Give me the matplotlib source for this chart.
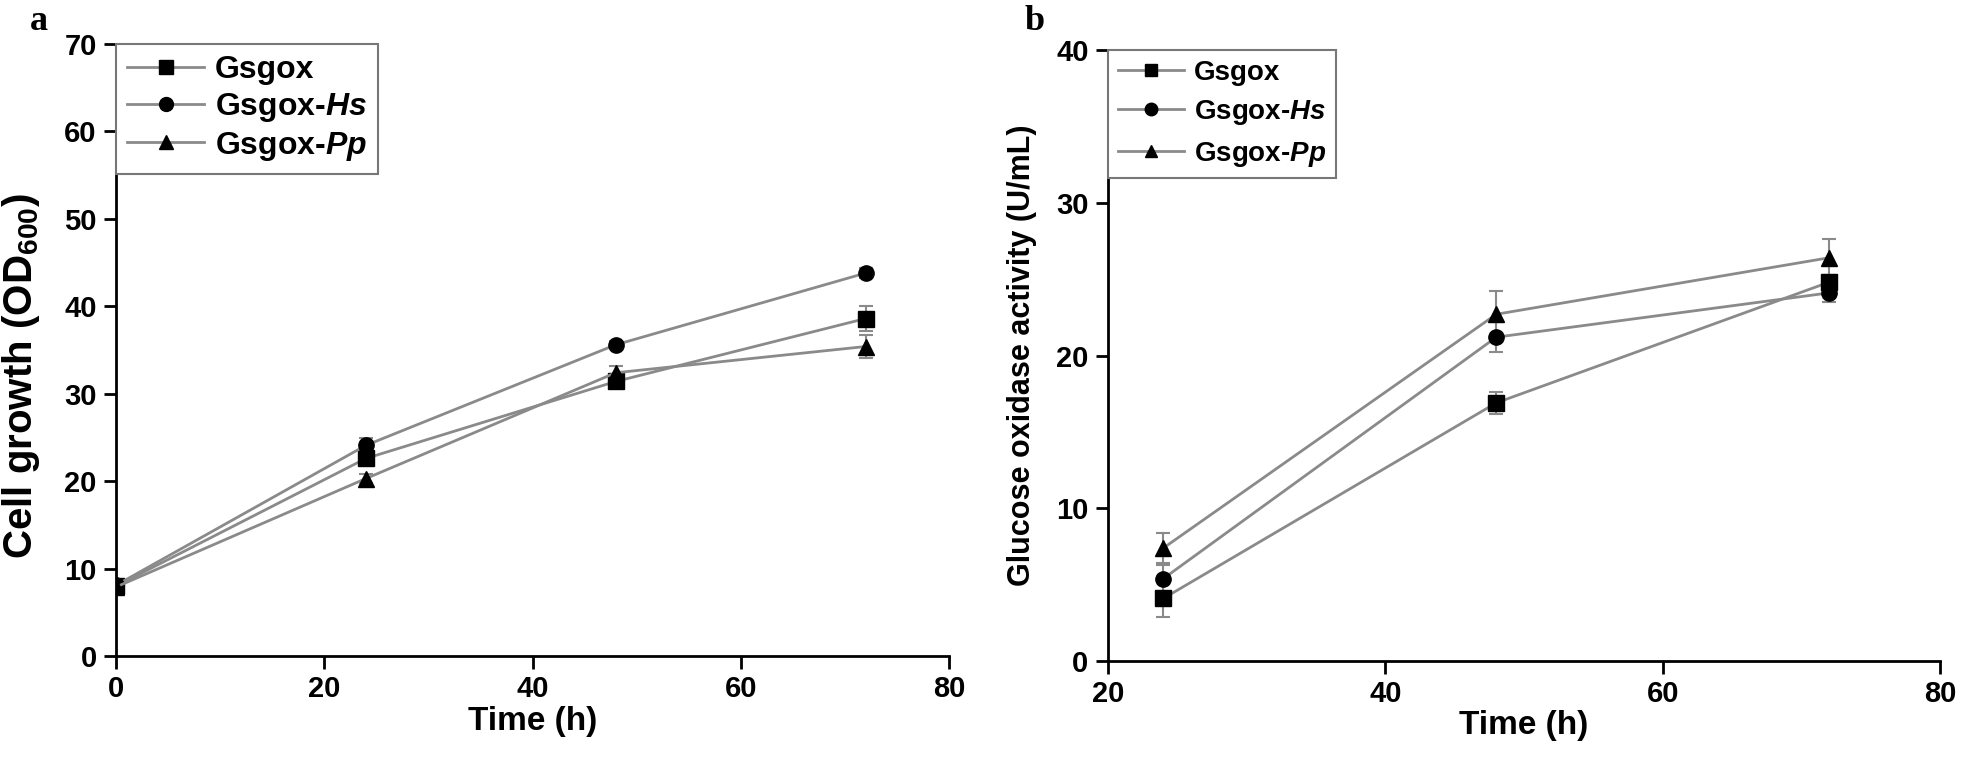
import numpy as np
import matplotlib
matplotlib.use('Agg')
import matplotlib.pyplot as plt
from matplotlib.lines import Line2D

plt.rcParams['font.family'] = ['Liberation Sans', 'DejaVu Sans']
plt.rcParams['font.weight'] = 'bold'
plt.rcParams['mathtext.fontset'] = 'custom'
plt.rcParams['mathtext.bf'] = 'Liberation Sans:bold'
plt.rcParams['mathtext.rm'] = 'Liberation Sans:bold'
plt.rcParams['mathtext.bfit'] = 'Liberation Sans:italic:bold'
plt.rcParams['mathtext.default'] = 'bf'

# data
labels = ['Gsgox', 'Gsgox-$\\mathbfit{Hs}$', 'Gsgox-$\\mathbfit{Pp}$']
markers = ['s', 'o', '^']

time_a = [0, 24, 48, 72]
growth = [[8.0, 22.6, 31.4, 38.6],
          [8.1, 24.1, 35.6, 43.8],
          [7.9, 20.3, 32.4, 35.4]]
growth_err = [[0.3, 0.8, 0.5, 1.4],
              [0.3, 0.8, 0.4, 0.6],
              [0.3, 0.5, 0.8, 1.3]]

time_b = [24, 48, 72]
activity = [[4.1, 16.9, 24.8],
            [5.4, 21.2, 24.1],
            [7.4, 22.7, 26.4]]
activity_err = [[1.2, 0.7, 0.5],
                [0.9, 1.0, 0.6],
                [1.0, 1.5, 1.2]]

fig = plt.figure(figsize=(19.61, 7.81), dpi=100)
ax1 = fig.add_axes([0.0592, 0.160, 0.4247, 0.7837])
ax2 = fig.add_axes([0.565, 0.1536, 0.4243, 0.7824])

LINE = '#8a8a8a'


def draw(ax, t, ys, errs, legsize, legms, legspace):
    for y, e, m in zip(ys, errs, markers):
        ax.errorbar(t, y, yerr=e, color=LINE, lw=2, marker=m, ms=11,
                    mfc='black', mec='black', ecolor=LINE, elinewidth=1.5,
                    capsize=5, capthick=1.5)
    for s in ['top', 'right']:
        ax.spines[s].set_visible(False)
    for s in ['left', 'bottom']:
        ax.spines[s].set_linewidth(2)
    ax.tick_params(direction='out', length=9, width=2, labelsize=21, pad=5)
    for lbl in ax.get_xticklabels() + ax.get_yticklabels():
        lbl.set_fontweight('bold')
    handles = [Line2D([], [], color=LINE, lw=2, marker=m, ms=legms,
                      mfc='black', mec='black') for m in markers]
    leg = ax.legend(handles, labels, loc='upper left', bbox_to_anchor=(0, 1),
                    borderaxespad=0, fontsize=legsize, handlelength=2.4,
                    labelspacing=legspace, fancybox=False, edgecolor='#777777',
                    framealpha=1, borderpad=0.35, handletextpad=0.35)
    leg.get_frame().set_linewidth(1.5)
    for txt in leg.get_texts():
        txt.set_fontweight('bold')


draw(ax1, time_a, growth, growth_err, 23, 10, 0.18)
ax1.set_xlim(0, 80)
ax1.set_ylim(0, 70)
ax1.set_xticks([0, 20, 40, 60, 80])
ax1.set_yticks(range(0, 71, 10))
ax1.set_xlabel('Time (h)', fontsize=24, fontweight='bold', labelpad=2)
ax1.set_ylabel('Cell growth (OD$_{600}$)', fontsize=29, fontweight='bold')
ax1.yaxis.set_label_coords(-0.089, 0.458)

draw(ax2, time_b, activity, activity_err, 20, 9, 0.45)
ax2.set_xlim(20, 80)
ax2.set_ylim(0, 40)
ax2.set_xticks([20, 40, 60, 80])
ax2.set_yticks([0, 10, 20, 30, 40])
ax2.set_xlabel('Time (h)', fontsize=24, fontweight='bold', labelpad=1)
ax2.set_ylabel('Glucose oxidase activity (U/mL)', fontsize=22, fontweight='bold', labelpad=14)

fig.text(0.0153, 0.972, 'a', fontsize=26, fontweight='bold', family='Liberation Serif', va='center')
fig.text(0.5227, 0.972, 'b', fontsize=26, fontweight='bold', family='Liberation Serif', va='center')

fig.savefig('out.png', dpi=100)
